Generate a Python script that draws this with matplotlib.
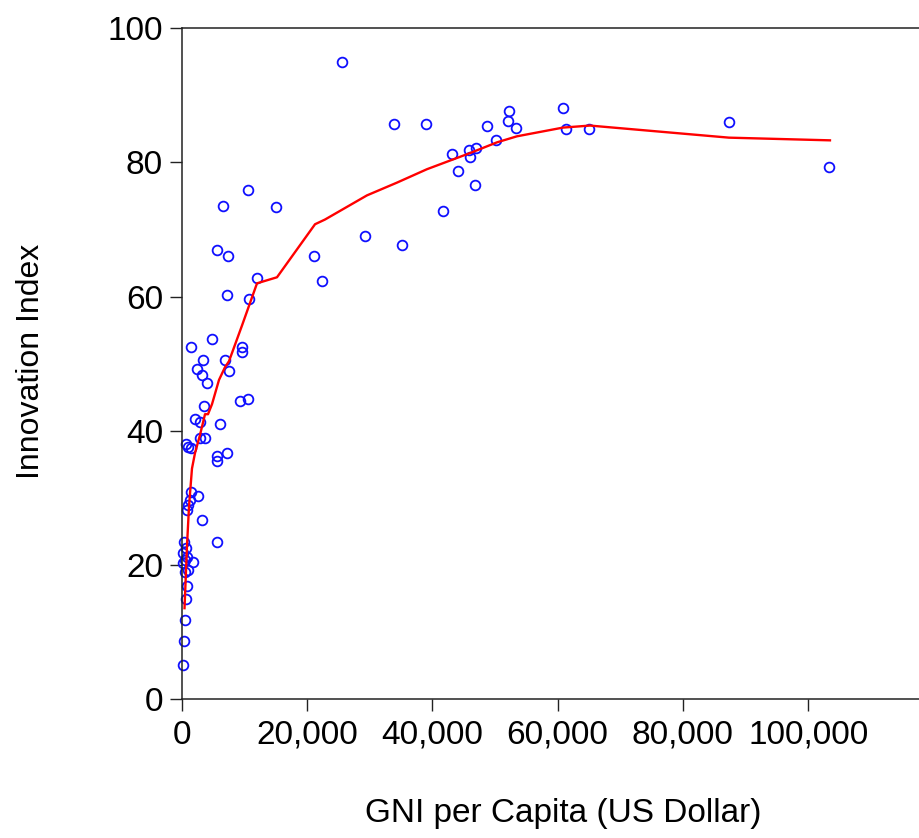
import matplotlib.pyplot as plt
from matplotlib.ticker import FixedLocator

# GNI per capita (US$) and innovation index
gni = [25540, 33930, 39040, 43140, 44050, 45850, 45970, 46920, 46860, 41700,
       48680, 50160, 52190, 52030, 53310, 60860, 61290, 64960, 29260, 35110,
       21120, 22440, 15050, 11970, 10630, 87400, 103310, 6540, 5680, 7390,
       7230, 10690, 4790, 1440, 9620, 9580, 3450, 6910, 2390, 7550,
       3190, 3990, 9310, 10630, 3610, 2120, 2920, 6110, 2920, 3720,
       640, 1050, 1440, 5680, 7180, 5680, 1440, 2650, 1330, 1050,
       850, 3190, 5630, 420, 640, 260, 890, 530, 1760, 260,
       1050, 530, 800, 640, 530, 370, 260]
index = [94.9, 85.7, 85.8, 81.2, 78.8, 81.9, 80.8, 82.2, 76.7, 72.8,
         85.4, 83.3, 87.7, 86.2, 85.1, 88.1, 85.0, 85.0, 69.1, 67.7,
         66.1, 62.3, 73.3, 62.8, 75.9, 86.0, 79.4, 73.5, 67.0, 66.0,
         60.2, 59.7, 53.7, 52.5, 52.5, 51.8, 50.6, 50.6, 49.3, 48.9,
         48.3, 47.2, 44.4, 44.7, 43.7, 41.8, 41.3, 41.0, 38.9, 38.9,
         38.1, 37.6, 37.4, 36.2, 36.7, 35.5, 30.9, 30.3, 29.7, 28.9,
         28.3, 26.8, 23.5, 23.4, 22.5, 21.8, 21.2, 20.8, 20.5, 20.3,
         19.3, 19.0, 16.9, 14.9, 11.9, 8.7, 5.1]

# fitted curve (nearest neighbour fit) vertices
fit_x = [450, 850, 1170, 1640, 2120, 2920, 3720, 4200, 4840, 5950,
         6910, 7550, 9620, 12020, 15210, 21280, 22870, 29570, 34360, 39150,
         46010, 50320, 53510, 60860, 65170, 87350, 103470]
fit_y = [13.6, 23.0, 28.8, 34.4, 36.7, 39.4, 42.5, 42.5, 44.0, 47.6,
         49.5, 50.4, 55.7, 62.0, 62.9, 70.8, 71.5, 75.1, 77.0, 79.0,
         81.4, 83.0, 83.9, 85.2, 85.5, 83.7, 83.3]

x_ticks = [0, 20000, 40000, 60000, 80000, 100000]
x_tick_labels = ['0', '20,000', '40,000', '60,000', '80,000', '100,000']
y_ticks = [0, 20, 40, 60, 80, 100]

plt.rcParams['font.family'] = ['Liberation Sans', 'DejaVu Sans']

fig = plt.figure(figsize=(9.2, 8.38), dpi=100)
ax = fig.add_axes([0.1975, 0.1653, 0.8172, 0.8010])

ax.plot(gni, index, linestyle='none', marker='o', markersize=7,
        markerfacecolor='none', markeredgecolor='#1010ff',
        markeredgewidth=1.3, clip_on=False)
ax.plot(fit_x, fit_y, color='#ff0000', linewidth=1.7)

ax.set_xlim(0, 120000)
ax.set_ylim(0, 100)
ax.xaxis.set_major_locator(FixedLocator(x_ticks))
ax.set_xticklabels(x_tick_labels)
ax.set_yticks(y_ticks)

for side in ['left', 'bottom', 'top']:
    ax.spines[side].set_linewidth(1.1)
    ax.spines[side].set_color('#222222')
ax.spines['right'].set_visible(False)

ax.tick_params(axis='both', direction='out', length=8.5, width=1.0,
               color='#222222', labelsize=24, labelcolor='black')
ax.tick_params(axis='x', pad=6)
ax.tick_params(axis='y', pad=5)

ax.set_xlabel('GNI per Capita (US Dollar)', fontsize=24, va='baseline')
ax.xaxis.set_label_coords(0.507, -0.183)
ax.set_ylabel('Innovation Index', fontsize=23, va='center')
ax.yaxis.set_label_coords(-0.200, 0.504)

fig.savefig('out.png', dpi=100)
